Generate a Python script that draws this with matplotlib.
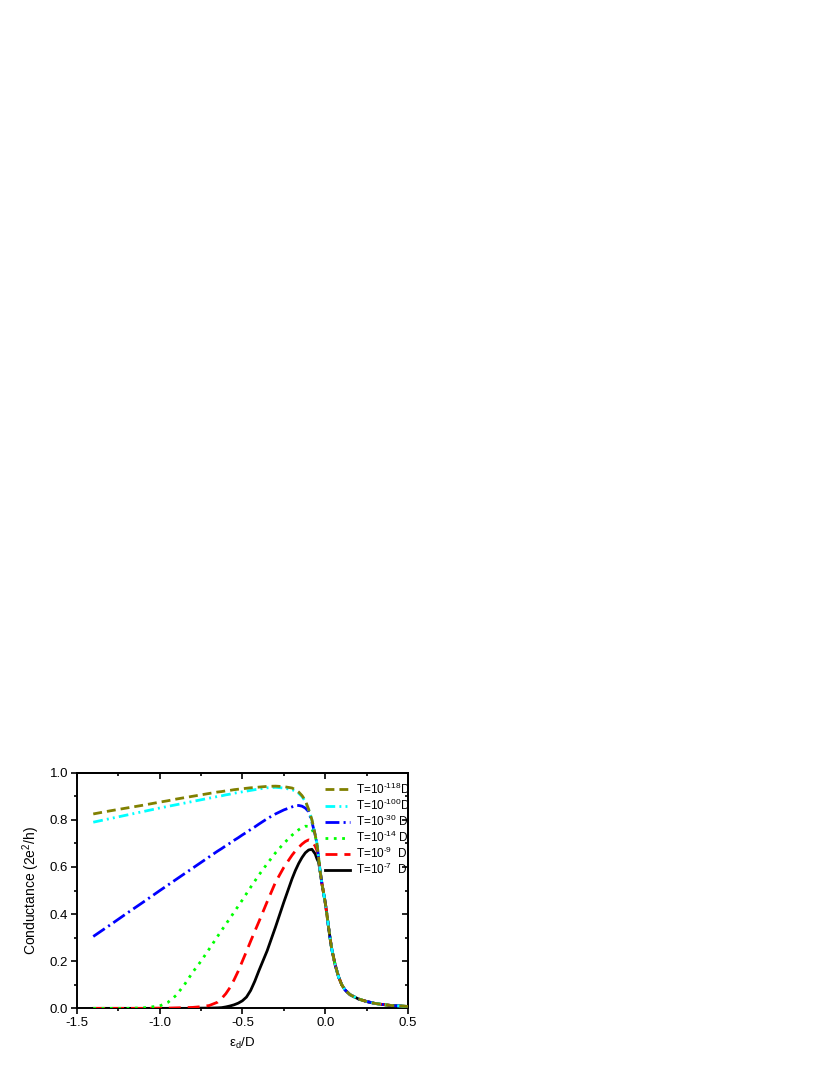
import numpy as np
import matplotlib
matplotlib.use("Agg")
import matplotlib.pyplot as plt
from matplotlib import font_manager
from matplotlib.ticker import MultipleLocator, FormatStrFormatter

plt.rcParams['font.family'] = ['Liberation Sans', 'DejaVu Sans']
plt.rcParams['mathtext.fontset'] = 'custom'
plt.rcParams['mathtext.rm'] = 'Liberation Sans'
plt.rcParams['mathtext.it'] = 'Liberation Sans:italic'
plt.rcParams['axes.unicode_minus'] = False

# legend text in the original is a bit condensed
try:
    font_manager.findfont('Liberation Sans Narrow', fallback_to_default=False)
    leg_family, leg_size = 'Liberation Sans Narrow', 9.5
except ValueError:
    leg_family, leg_size = 'Liberation Sans', 8.5

# energy level of the dot, eps_d / D
eps = [-1.4, -1.3, -1.2, -1.1, -1.0, -0.95, -0.9, -0.85, -0.8, -0.75,
       -0.7, -0.65, -0.625, -0.6, -0.575, -0.55, -0.525, -0.5, -0.475, -0.45,
       -0.425, -0.4, -0.35, -0.3, -0.25,
       -0.2, -0.18, -0.16, -0.14, -0.12, -0.1, -0.08, -0.06, -0.05, -0.04,
       -0.03, -0.02, -0.01, 0.0, 0.01, 0.02, 0.03, 0.04, 0.06, 0.08,
       0.1, 0.12, 0.15, 0.2, 0.25, 0.3, 0.35, 0.4, 0.45, 0.5]

# common tail, eps >= -0.03 (all temperatures collapse)
tail = [0.58, 0.53, 0.49, 0.45, 0.40, 0.345, 0.295, 0.25, 0.185, 0.135,
        0.10, 0.078, 0.058, 0.04, 0.029, 0.021, 0.016, 0.012, 0.01, 0.008]

g_118 = [0.825, 0.838, 0.85, 0.862, 0.875, 0.881, 0.888, 0.894, 0.9, 0.906,
         0.912, 0.918, 0.920, 0.923, 0.925, 0.928, 0.930, 0.932, 0.934, 0.936,
         0.937, 0.939, 0.942, 0.943, 0.941,
         0.935, 0.928, 0.918, 0.903, 0.882, 0.845, 0.80, 0.735, 0.70, 0.64] + tail
g_100 = [0.79, 0.805, 0.82, 0.835, 0.85, 0.857, 0.864, 0.871, 0.878, 0.885,
         0.892, 0.899, 0.902, 0.906, 0.909, 0.913, 0.916, 0.919, 0.922, 0.925,
         0.928, 0.931, 0.936, 0.938, 0.935,
         0.928, 0.922, 0.913, 0.899, 0.878, 0.843, 0.798, 0.735, 0.70, 0.64] + tail
g_30 = [0.305, 0.353, 0.402, 0.45, 0.499, 0.523, 0.547, 0.571, 0.595, 0.619,
        0.643, 0.667, 0.678, 0.69, 0.701, 0.713, 0.724, 0.736, 0.747, 0.759,
        0.770, 0.782, 0.805, 0.825, 0.842,
        0.855, 0.86, 0.861, 0.858, 0.85, 0.835, 0.79, 0.735, 0.70, 0.64] + tail
g_14 = [0.0, 0.0, 0.0, 0.002, 0.01, 0.025, 0.055, 0.1, 0.153, 0.2,
        0.252, 0.305, 0.331, 0.357, 0.382, 0.408, 0.434, 0.46, 0.487, 0.514,
        0.540, 0.566, 0.614, 0.66, 0.70,
        0.735, 0.747, 0.758, 0.767, 0.773, 0.772, 0.76, 0.73, 0.70, 0.64] + tail
g_9 = [0.0, 0.0, 0.0, 0.0, 0.001, 0.001, 0.002, 0.003, 0.004, 0.007,
       0.012, 0.026, 0.042, 0.062, 0.088, 0.121, 0.158, 0.2, 0.242, 0.285,
       0.327, 0.368, 0.453, 0.535, 0.598,
       0.65, 0.668, 0.683, 0.697, 0.708, 0.715, 0.71, 0.688, 0.67, 0.64] + tail
g_7 = [0.0, 0.0, 0.0, 0.0, 0.0, 0.0, 0.0, 0.0, 0.0, 0.001,
       0.001, 0.002, 0.003, 0.006, 0.01, 0.015, 0.022, 0.032, 0.048, 0.076,
       0.115, 0.16, 0.245, 0.345, 0.45,
       0.55, 0.585, 0.615, 0.64, 0.66, 0.672, 0.675, 0.655, 0.635, 0.62] + tail

hy = '\u2010'
labels = ['T=10$^{' + hy + '118}$D', 'T=10$^{' + hy + '100}$D',
          'T=10$^{' + hy + '30}$ D', 'T=10$^{' + hy + '14}$ D',
          'T=10$^{' + hy + '9}$  D', 'T=10$^{' + hy + '7}$  D']
series = [g_118, g_100, g_30, g_14, g_9, g_7]
colors = ['#808000', '#00ffff', '#0000ff', '#00ff00', '#ff0000', '#000000']
dashes = [(3.2, 1.8), (3.5, 1.5, 0.7, 1.5, 0.7, 1.5), (5, 1.5, 0.75, 1.5),
          (1.0, 2.0), (4.3, 2.5), None]

fig = plt.figure(figsize=(8.3, 10.75), dpi=100)
ax = fig.add_axes([0.0924, 0.062, 0.3992, 0.2192])

for i, (g, lab, c, d) in enumerate(zip(series, labels, colors, dashes)):
    line, = ax.plot(eps, g, color=c, lw=2.0, label=lab, zorder=10 - i)
    if d is not None:
        line.set_dashes(d)

ax.set_xlim(-1.5, 0.5)
ax.set_ylim(0, 1.0)
ax.xaxis.set_major_locator(MultipleLocator(0.5))
ax.xaxis.set_minor_locator(MultipleLocator(0.25))
ax.yaxis.set_major_locator(MultipleLocator(0.2))
ax.yaxis.set_minor_locator(MultipleLocator(0.1))
ax.xaxis.set_major_formatter(FormatStrFormatter('%.1f'))
ax.yaxis.set_major_formatter(FormatStrFormatter('%.1f'))
ax.tick_params(which='both', direction='out', labelsize=9.5, width=1.2, pad=2)
ax.tick_params(which='major', length=4)
ax.tick_params(which='minor', length=2.2)
for s in ax.spines.values():
    s.set_linewidth(1.4)

# inward ticks on top and right
top = ax.secondary_xaxis('top')
top.xaxis.set_major_locator(MultipleLocator(0.5))
top.xaxis.set_minor_locator(MultipleLocator(0.25))
top.tick_params(which='both', direction='in', labeltop=False, width=1.2)
top.tick_params(which='major', length=4)
top.tick_params(which='minor', length=2.2)
right = ax.secondary_yaxis('right')
right.yaxis.set_major_locator(MultipleLocator(0.2))
right.yaxis.set_minor_locator(MultipleLocator(0.1))
right.tick_params(which='both', direction='in', labelright=False, width=1.2)
right.tick_params(which='major', length=4)
right.tick_params(which='minor', length=2.2)
for sa in (top, right):
    for s in sa.spines.values():
        s.set_linewidth(1.4)

ax.set_xlabel('ε$_\\mathregular{d}$/D', fontsize=9.5, labelpad=5)
ax.set_ylabel('Conductance (2e$^\\mathregular{2}$/h)', fontsize=10, labelpad=6)

leg = ax.legend(loc='upper left', bbox_to_anchor=(0.748, 0.963), frameon=False,
                prop={'family': leg_family, 'size': leg_size},
                handlelength=18.0 / leg_size, handletextpad=0.55,
                labelspacing=0.07, borderpad=0, borderaxespad=0)

fig.savefig('out.png', dpi=100)
